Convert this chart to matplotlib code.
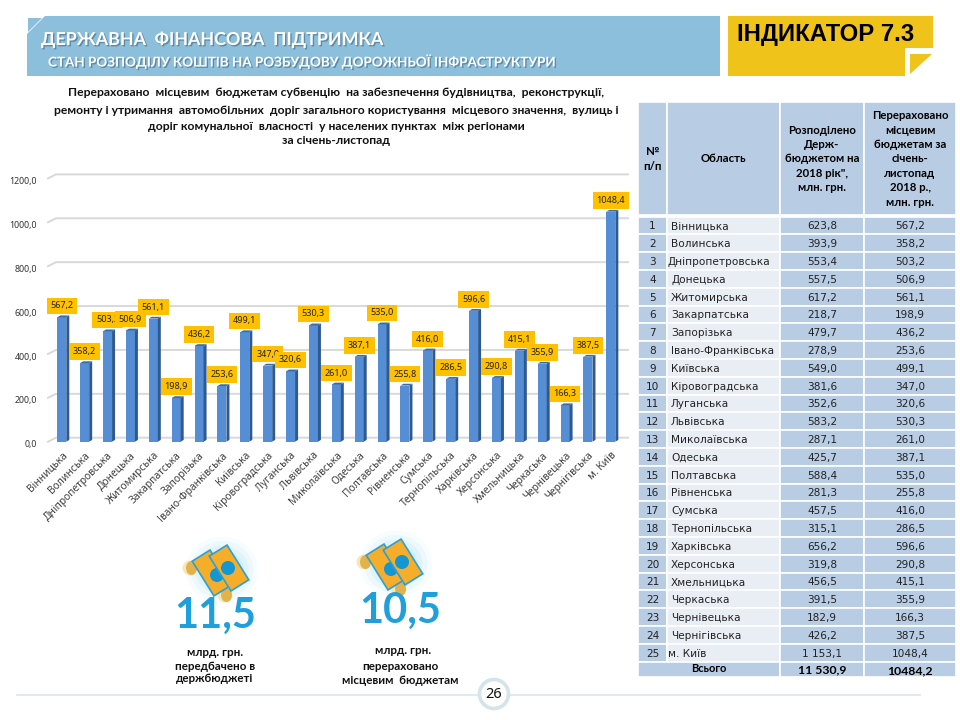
import matplotlib
matplotlib.use("Agg")
import matplotlib.pyplot as plt
import matplotlib.patheffects as pe
from matplotlib.patches import Polygon, Rectangle, Circle, Ellipse
from matplotlib.transforms import Affine2D, ScaledTranslation

plt.rcParams["font.family"] = ["Noto Sans", "DejaVu Sans"]

regions = ["Вінницька", "Волинська", "Дніпропетровська", "Донецька", "Житомирська",
           "Закарпатська", "Запорізька", "Івано-Франківська", "Київська", "Кіровоградська",
           "Луганська", "Львівська", "Миколаївська", "Одеська", "Полтавська",
           "Рівненська", "Сумська", "Тернопільська", "Харківська", "Херсонська",
           "Хмельницька", "Черкаська", "Чернівецька", "Чернігівська", "м. Київ"]
planned = ["623,8", "393,9", "553,4", "557,5", "617,2", "218,7", "479,7", "278,9", "549,0",
           "381,6", "352,6", "583,2", "287,1", "425,7", "588,4", "281,3", "457,5", "315,1",
           "656,2", "319,8", "456,5", "391,5", "182,9", "426,2", "1 153,1"]
transferred = [567.2, 358.2, 503.2, 506.9, 561.1, 198.9, 436.2, 253.6, 499.1, 347.0,
               320.6, 530.3, 261.0, 387.1, 535.0, 255.8, 416.0, 286.5, 596.6, 290.8,
               415.1, 355.9, 166.3, 387.5, 1048.4]
y_ticks = [0, 200, 400, 600, 800, 1000, 1200]

title_lines = ["Перераховано  місцевим  бюджетам субвенцію  на забезпечення будівництва,  реконструкції,",
               "ремонту і утримання  автомобільних  доріг загального користування  місцевого значення,  вулиць і",
               "доріг комунальної  власності  у населених пунктах  між регіонами",
               "за січень-листопад"]
header_col3 = "Розподілено\nДерж-\nбюджетом на\n2018 рік\",\nмлн. грн."
header_col4 = "Перераховано\nмісцевим\nбюджетам за\nсічень-\nлистопад\n2018 р.,\nмлн. грн."

W, H = 960, 720
BLUE = "#b8cce4"
LIGHT = "#e9edf4"
BOLD_FONT = ["Lato", "DejaVu Sans"]
BODY_FONT = "DejaVu Sans"
fig = plt.figure(figsize=(W / 100, H / 100), dpi=100)

# page layer in pixel coordinates
page = fig.add_axes([0, 0, 1, 1], zorder=0)
page.set_xlim(0, W)
page.set_ylim(H, 0)
page.axis("off")

# header bands
page.add_patch(Polygon([(27, 34), (45, 16), (720, 16), (720, 76), (27, 76)], color="#8bbfdc", lw=0))
page.add_patch(Polygon([(28, 18), (42, 18), (28, 32)], color="#8bbfdc", lw=0))
shadow = [pe.withSimplePatchShadow(offset=(1, -1), shadow_rgbFace="#44677c", alpha=0.6)]
page.text(41, 39.5, "ДЕРЖАВНА  ФІНАНСОВА  ПІДТРИМКА", color="white", fontsize=12.85, weight="bold",
          va="center", family=BOLD_FONT, path_effects=shadow)
page.text(48, 61.5, "СТАН РОЗПОДІЛУ КОШТІВ НА РОЗБУДОВУ ДОРОЖНЬОЇ ІНФРАСТРУКТУРИ", color="white",
          fontsize=9.7, weight="bold", va="center", family=BOLD_FONT, path_effects=shadow)
page.add_patch(Polygon([(728, 16), (933, 16), (933, 48), (905, 48), (905, 76), (728, 76)],
                       color="#efc319", lw=0))
page.add_patch(Polygon([(910, 54), (932, 54), (910, 74)], color="#efc319", lw=0))
page.text(737, 35, "ІНДИКАТОР 7.3", color="black", fontsize=17.2, weight="bold", va="center",
          family="Liberation Sans")

# chart title
for y, line in zip([93, 110, 126, 141], title_lines):
    page.text(336, y, line, ha="center", va="center", fontsize=8.7, weight="bold", color="#111111",
              family=BOLD_FONT)

# footer rule and page number
page.plot([17, 920], [695, 695], color="#dbe5ee", lw=1.2, zorder=1)
page.add_patch(Circle((494, 694), 14.5, fc="white", ec="#d4e4ea", lw=2.6, zorder=2))
page.text(494, 694, "26", ha="center", va="center", fontsize=10.5, color="#111111", zorder=3)


def money_icon(cx, cy):
    # glow
    for r, a in zip([38, 33, 28, 23], [0.08, 0.12, 0.15, 0.2]):
        page.add_patch(Ellipse((cx - 7, cy + 2), r * 1.9, r * 1.75, fc="#9ddcf5", alpha=a, lw=0))
    for ox, oy in [(-39, 0), (-4, 27)]:
        page.add_patch(Ellipse((cx + ox, cy + oy), 15, 15, fc="#f6e6b8", lw=0))
        page.add_patch(Ellipse((cx + ox + 1.5, cy + oy), 11, 14, fc="#e3b24a", lw=0))
    rot = Affine2D().rotate_deg(58).translate(cx, cy)
    note = [(-20.5, -10.5), (20.5, -10.5), (20.5, 10.5), (-20.5, 10.5)]
    page.add_patch(Polygon(rot.transform(note) + (-17, 5), fc="#f6ae2a", ec="#2aa0d8", lw=1.2))
    page.add_patch(Circle((cx - 12, cy + 7), 7, fc="#1496d2", lw=0))
    page.add_patch(Polygon(rot.transform(note), fc="#f6ae2a", ec="#2aa0d8", lw=1.2))
    page.add_patch(Circle((cx - 1, cy), 7, fc="#1496d2", lw=0))


money_icon(229, 568)
money_icon(403, 562)
BIG = "#1f9fdc"
page.text(215, 616, "11,5", ha="center", va="center", fontsize=30, weight="bold", color=BIG, family=BOLD_FONT)
page.text(400, 611, "10,5", ha="center", va="center", fontsize=30, weight="bold", color=BIG, family=BOLD_FONT)
for x, y, s, fs in [(215, 653, "млрд. грн.", 8.4), (215, 667, "передбачено в", 8.4), (215, 679, "держбюджеті", 8.4),
                    (403, 651, "млрд. грн.", 8.4), (400, 667, "перераховано", 8.4),
                    (400, 680, "місцевим  бюджетам", 8.4)]:
    page.text(x, y, s, ha="center", va="center", fontsize=fs, weight="bold", color="#111111", family=BOLD_FONT)

# table
col_x = [638, 667, 780, 864, 956]
head_top, head_bot = 102, 215
row_h = 17.8
first_top = 216.5


def cell(x0, x1, y0, y1, color):
    page.add_patch(Rectangle((x0, y0), x1 - x0, y1 - y0, fc=color, ec="white", lw=1.2))


for i in range(4):
    cell(col_x[i], col_x[i + 1], head_top, head_bot, BLUE)
page.text(652.5, 159, "№\nп/п", ha="center", va="center", fontsize=8.2, weight="bold", linespacing=1.4, family=BOLD_FONT)
page.text(723, 159, "Область", ha="center", va="center", fontsize=8.2, weight="bold", family=BOLD_FONT)
page.text(822, 159, header_col3, ha="center", va="center", fontsize=8.2, weight="bold", linespacing=1.38, family=BOLD_FONT)
page.text(910, 159, header_col4, ha="center", va="center", fontsize=8.2, weight="bold", linespacing=1.38, family=BOLD_FONT)

for i, region in enumerate(regions):
    y0 = first_top + i * row_h
    ym = y0 + row_h / 2 + 1
    cell(col_x[0], col_x[1], y0, y0 + row_h, BLUE)
    cell(col_x[1], col_x[2], y0, y0 + row_h, LIGHT)
    cell(col_x[2], col_x[3], y0, y0 + row_h, BLUE)
    cell(col_x[3], col_x[4], y0, y0 + row_h, BLUE)
    page.text(652.5, ym, str(i + 1), ha="center", va="center", fontsize=7.6, color="#222222", family=BODY_FONT)
    left = 668 if region in ("Дніпропетровська", "м. Київ") else 671
    page.text(left, ym, region, ha="left", va="center", fontsize=7.6, color="#222222", family=BODY_FONT)
    page.text(822, ym, planned[i], ha="center", va="center", fontsize=7.6, color="#222222", family=BODY_FONT)
    page.text(910, ym, f"{transferred[i]:.1f}".replace(".", ","), ha="center", va="center",
              fontsize=7.6, color="#222222", family=BODY_FONT)

y_total = first_top + 25 * row_h
cell(col_x[0], col_x[2], y_total, 677, BLUE)
cell(col_x[2], col_x[3], y_total, 677, BLUE)
cell(col_x[3], col_x[4], y_total, 677, BLUE)
page.text(709, 668.5, "Всього", ha="center", va="center", fontsize=8, weight="bold", family=BOLD_FONT)
page.text(822, 669.5, "11 530,9", ha="center", va="center", fontsize=8.8, weight="bold", family=BOLD_FONT)
page.text(910, 670.5, "10484,2", ha="center", va="center", fontsize=8.8, weight="bold", family=BOLD_FONT)

# bar chart, axes placed so that the front plane lines up with the reference
ax_left, ax_right, y0_px, y1200_px = 48, 628, 441.7, 178.4
ax = fig.add_axes([ax_left / W, 1 - y0_px / H, (ax_right - ax_left) / W, (y0_px - y1200_px) / H], zorder=1)
ax.patch.set_alpha(0)
ax.set_xlim(-0.603, 24.75)
ax.set_ylim(0, 1200)
for s in ax.spines.values():
    s.set_visible(False)

px_x = 25.35 / 580   # data units per pixel, x
px_y = 1200 / 263.3  # data units per pixel, y
back_x, back_y = 8 * px_x, 4 * px_y
xs = list(range(len(regions)))

for t in y_ticks:
    ax.plot([-0.603, -0.603 + back_x, 24.75], [t, t + back_y, t + back_y], color="#d9d9d9", lw=1.4,
            zorder=1, clip_on=False, solid_joinstyle="miter")

bar_w = 9 * px_x
depth_x, depth_y = 3 * px_x, 1.8 * px_y
ax.bar(xs, transferred, width=bar_w, color="#558ed5", lw=0, zorder=3)
for x, v in zip(xs, transferred):
    x1 = x + bar_w / 2
    x0 = x - bar_w / 2
    ax.add_patch(Polygon([(x1, 0), (x1 + depth_x, depth_y), (x1 + depth_x, v + depth_y), (x1, v)],
                         fc="#2f5a8f", lw=0, zorder=3))
    ax.add_patch(Polygon([(x0, v), (x1, v), (x1 + depth_x, v + depth_y), (x0 + depth_x, v + depth_y)],
                         fc="#3a6ba5", lw=0, zorder=3))

for i, (x, v) in enumerate(zip(xs, transferred)):
    ax.annotate(f"{v:.1f}".replace(".", ","), (x, v), xytext=(0, 8.2), textcoords="offset points",
                ha="center", va="center", fontsize=6.5, color="#222222", zorder=10 + i,
                annotation_clip=False,
                bbox=dict(boxstyle="square,pad=0.42", fc="#ffc000", ec="none"))

ax.set_yticks(y_ticks)
ax.set_yticklabels([f"{t},0" for t in y_ticks], fontsize=6.4, color="#333333")
ax.tick_params(axis="y", length=0, pad=8)
for lab in ax.get_yticklabels():
    lab.set_transform(lab.get_transform() + ScaledTranslation(0, -1.5 / 72, fig.dpi_scale_trans))
ax.set_xticks(xs)
ax.set_xticklabels(regions, rotation=45, ha="right", rotation_mode="anchor", fontsize=7.4, color="#404040")
ax.tick_params(axis="x", length=0, pad=6)

fig.savefig("out.png", dpi=100)
